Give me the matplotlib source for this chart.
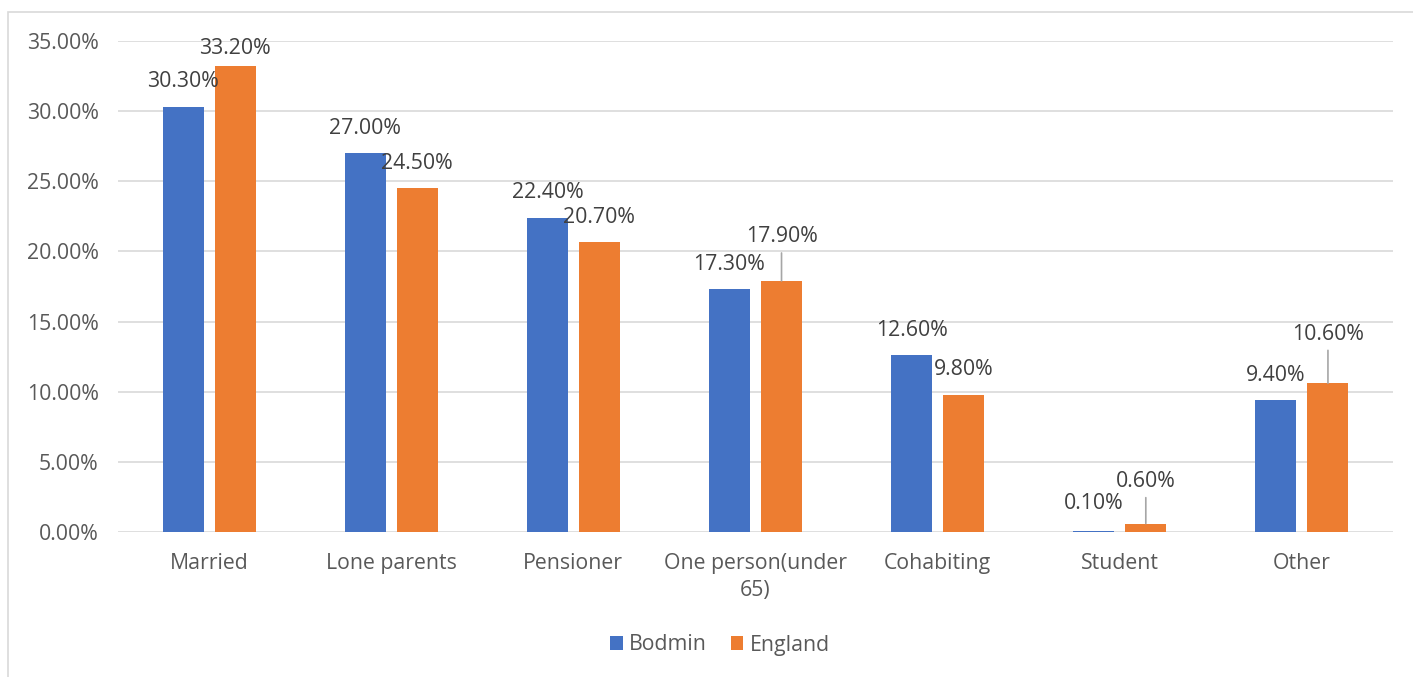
import numpy as np
import matplotlib
matplotlib.use('Agg')
import matplotlib.pyplot as plt
from matplotlib.patches import Rectangle

plt.rcParams['font.family'] = ['Open Sans', 'DejaVu Sans']

categories = ['Married', 'Lone parents', 'Pensioner', 'One person(under\n65)',
              'Cohabiting', 'Student', 'Other']
bodmin = [30.3, 27.0, 22.4, 17.3, 12.6, 0.1, 9.4]
england = [33.2, 24.5, 20.7, 17.9, 9.8, 0.6, 10.6]

# label lift above bar top (pixels) - Excel moved some of them up
bodmin_dy = [25, 25, 25, 25, 25, 27, 25]
england_dy = [18, 25, 24, 44, 25, 42, 49]

BLUE = '#4472C4'
ORANGE = '#ED7D31'
GRID = '#d9d9d9'
TICK = '#595959'
LABEL = '#404040'
FS = 15.3

fig = plt.figure(figsize=(14.13, 6.77), dpi=100)
ax = fig.add_axes([118 / 1413, 1 - 532 / 677, (1393 - 118) / 1413, (532 - 41) / 677])

x = np.arange(len(categories))
w = 0.225
off = 26 / 182

b1 = ax.bar(x - off, bodmin, w, color=BLUE, label='Bodmin', zorder=3)
b2 = ax.bar(x + off, england, w, color=ORANGE, label='England', zorder=3)


def add_labels(xs, vals, dys):
    for xi, v, dy in zip(xs, vals, dys):
        props = None
        if dy > 30:
            props = dict(arrowstyle='-', color='#a6a6a6', lw=1.2, shrinkA=2, shrinkB=0)
        ax.annotate(f'{v:.2f}%', xy=(xi, v), xytext=(0, dy), textcoords='offset pixels',
                    ha='center', va='center', fontsize=FS, color=LABEL,
                    arrowprops=props, zorder=4)


add_labels(x - off, bodmin, bodmin_dy)
add_labels(x + off, england, england_dy)

ax.set_xlim(-0.5, len(categories) - 0.5)
ax.set_ylim(0, 35)
ax.set_yticks(np.arange(0, 36, 5))
ax.set_yticklabels([f'{t:.2f}%' for t in np.arange(0, 36, 5)])
ax.set_xticks(x)
ax.set_xticklabels(categories, linespacing=1.4)
ax.tick_params(axis='both', length=0, labelsize=FS, labelcolor=TICK)
ax.tick_params(axis='y', pad=14)
ax.tick_params(axis='x', pad=15)
ax.yaxis.grid(True, color=GRID, lw=1.2, zorder=0)
ax.set_axisbelow(True)
for s in ax.spines.values():
    s.set_visible(False)

leg = fig.legend(handles=[b1, b2], labels=['Bodmin', 'England'], loc='center',
                 bbox_to_anchor=(720 / 1413, 1 - 645 / 677), ncol=2, frameon=False,
                 fontsize=FS, handlelength=0.6, handleheight=0.6, handletextpad=0.3,
                 columnspacing=1.1)
for t in leg.get_texts():
    t.set_color(TICK)

# chart area border (right/bottom edges are cut off in the original)
fig.patches.append(Rectangle((7.5 / 1413, -0.2), 1.5, 1.2 - 12 / 677,
                             transform=fig.transFigure, fill=False,
                             edgecolor=GRID, lw=1.2))

fig.savefig('out.png', dpi=100)
